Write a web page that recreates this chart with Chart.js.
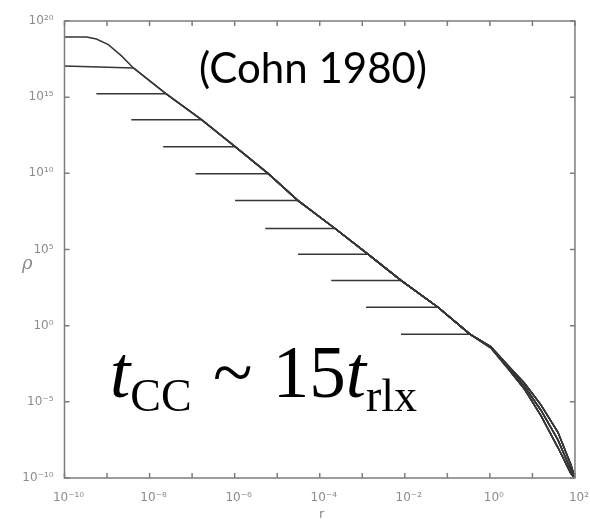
<!DOCTYPE html>
<html>
<head>
<meta charset="utf-8">
<title>Cohn 1980 - density profiles</title>
<script src="https://cdn.jsdelivr.net/npm/chart.js@4"></script>
<style>
  html, body { margin: 0; padding: 0; background: #fff; }
  #wrap { position: relative; width: 590px; height: 526px; overflow: hidden; }
  #chart { position: absolute; left: 0; top: 0; }
  .note { position: absolute; white-space: nowrap; line-height: 1; }
  #cite { left: 199px; top: 42px; font: 42px Lato, sans-serif; color: #000; }
  #formula { left: 110px; top: 331px; font: 73px "Liberation Serif", "Times New Roman", serif; color: #000; }
  #formula .sub { font-size: 46px; position: relative; top: 14px; }
  #formula .op { margin: 0 2px 0 3px; }
  #rho { left: 22px; top: 252px; font: italic 18px "DejaVu Serif", serif; color: #8a8a8a; }
  #rlab { left: 319px; top: 506px; font: 13px "DejaVu Sans", sans-serif; color: #8a8a8a; }
</style>
</head>
<body>
<div id="wrap">
  <canvas id="chart" width="590" height="526"></canvas>
  <div class="note" id="cite">(Cohn 1980)</div>
  <div class="note" id="formula"><i>t</i><span class="sub">CC</span><span class="op"> ~ </span>15<i>t</i><span class="sub">rlx</span></div>
  <div class="note" id="rho">ρ</div>
  <div class="note" id="rlab">r</div>
</div>
<script>
// Valores, en log10 (r y rho)
const xTickExps = [-10, -9, -8, -7, -6, -5, -4, -3, -2, -1, 0, 1, 2];
const xLabelExps = [-10, -8, -6, -4, -2, 0, 2];
const yTickExps = [-10, -5, 0, 5, 10, 15, 20];

// núcleos planos de los perfiles sucesivos
const coreStartLogR = [-10, -10, -9.25, -8.43, -7.68, -6.92, -5.99, -5.28, -4.51, -3.73, -2.91, -2.09];
const coreLogRho = [18.95, 17.05, 15.22, 13.52, 11.75, 9.98, 8.21, 6.38, 4.68, 2.97, 1.21, -0.56];

// codo redondeado del perfil más denso
const kneeLogR = [-9.48, -9.25, -8.97, -8.66];
const kneeLogRho = [18.95, 18.82, 18.45, 17.71];

// ley de potencia común
const envLogR = [-8.38, -7.61, -6.78, -5.99, -5.21, -4.51, -3.64, -2.86, -2.09, -1.22, -0.47];
const envLogRho = [16.92, 15.22, 13.52, 11.75, 9.98, 8.21, 6.38, 4.68, 2.97, 1.21, -0.56];

// halo exterior (tres caídas algo distintas)
const haloLogR = [0.02, 0.42, 0.82, 1.20, 1.60, 1.90, 2.0];
const haloLogRhoA = [-1.45, -2.80, -4.20, -5.90, -8.00, -9.70, -10];
const haloLogRhoB = [-1.41, -2.70, -4.00, -5.55, -7.50, -9.45, -10];
const haloLogRhoC = [-1.38, -2.60, -3.80, -5.20, -7.00, -9.10, -10];

const SUP = { '-': '⁻', '0': '⁰', '1': '¹', '2': '²', '3': '³', '4': '⁴', '5': '⁵', '6': '⁶', '7': '⁷', '8': '⁸', '9': '⁹' };
function powLabel(e) {
  return '10' + String(e).split('').map(c => SUP[c]).join('');
}

// Armar cada perfil: núcleo + envolvente + halo
function buildCurve(i) {
  const rho0 = coreLogRho[i];
  const pts = [{ x: coreStartLogR[i], y: rho0 }];
  if (i === 0) {
    kneeLogR.forEach((r, k) => pts.push({ x: r, y: kneeLogRho[k] }));
  }
  envLogR.forEach((r, k) => {
    if (envLogRho[k] <= rho0 + 0.05) pts.push({ x: r, y: envLogRho[k] });
  });
  const halo = [haloLogRhoA, haloLogRhoB, haloLogRhoC][i % 3];
  haloLogR.forEach((r, k) => pts.push({ x: r, y: halo[k] }));
  return pts.map(p => ({ x: Math.pow(10, p.x), y: Math.pow(10, p.y) }));
}

// Marco y marcas hacia dentro en los cuatro lados
const framePlugin = {
  id: 'frame',
  afterDraw(chart) {
    const { ctx, chartArea: a, scales } = chart;
    ctx.save();
    ctx.strokeStyle = '#7d7d7d';
    ctx.lineWidth = 1.5;
    ctx.strokeRect(a.left, a.top, a.right - a.left, a.bottom - a.top);
    ctx.beginPath();
    scales.x.ticks.forEach(t => {
      const px = scales.x.getPixelForValue(t.value);
      ctx.moveTo(px, a.bottom); ctx.lineTo(px, a.bottom - 5);
      ctx.moveTo(px, a.top); ctx.lineTo(px, a.top + 5);
    });
    scales.y.ticks.forEach(t => {
      const py = scales.y.getPixelForValue(t.value);
      ctx.moveTo(a.left, py); ctx.lineTo(a.left + 5, py);
      ctx.moveTo(a.right, py); ctx.lineTo(a.right - 5, py);
    });
    ctx.stroke();
    ctx.restore();
  }
};

const tickFont = { family: 'DejaVu Sans', size: 12 };

new Chart(document.getElementById('chart'), {
  type: 'line',
  data: {
    datasets: coreLogRho.map((_, i) => ({
      data: buildCurve(i),
      borderColor: '#363636',
      borderWidth: 1.5,
      pointRadius: 0,
      tension: 0,
      fill: false
    }))
  },
  options: {
    responsive: false,
    animation: false,
    layout: { padding: { top: 21, right: 13, left: 0, bottom: 0 } },
    plugins: { legend: { display: false }, tooltip: { enabled: false } },
    scales: {
      x: {
        type: 'logarithmic',
        min: 1e-10,
        max: 1e2,
        grid: { display: false },
        border: { display: false },
        afterBuildTicks: s => { s.ticks = xTickExps.map(e => ({ value: Math.pow(10, e) })); },
        afterFit: s => { s.height = 48; },
        ticks: {
          autoSkip: false,
          maxRotation: 0,
          padding: 5,
          labelOffset: 4,
          color: '#8c8c8c',
          font: tickFont,
          callback: v => {
            const e = Math.round(Math.log10(v));
            return xLabelExps.includes(e) ? powLabel(e) : '';
          }
        }
      },
      y: {
        type: 'logarithmic',
        min: 1e-10,
        max: 1e20,
        grid: { display: false },
        border: { display: false },
        afterBuildTicks: s => { s.ticks = yTickExps.map(e => ({ value: Math.pow(10, e) })); },
        afterFit: s => { s.width = 64.5; },
        ticks: {
          autoSkip: false,
          padding: 3,
          color: '#8c8c8c',
          font: tickFont,
          callback: v => powLabel(Math.round(Math.log10(v)))
        }
      }
    }
  },
  plugins: [framePlugin]
});
</script>
</body>
</html>
